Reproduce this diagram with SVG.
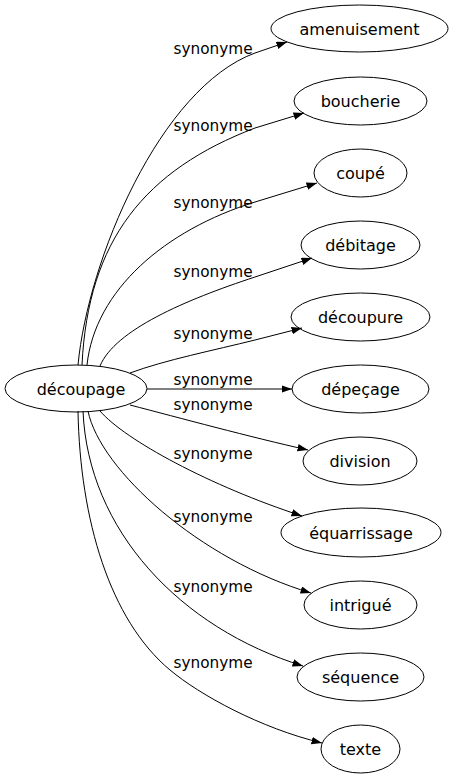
<svg xmlns="http://www.w3.org/2000/svg" width="455" height="779" viewBox="0 0 455 779">
<style>
.n ellipse{fill:none;stroke:#000;stroke-width:1}
.n text{font-family:"DejaVu Sans",sans-serif;font-size:16px;text-anchor:middle;fill:#000}
.e path{fill:none;stroke:#000;stroke-width:1;marker-end:url(#arr)}
.lbl text{font-family:"DejaVu Sans",sans-serif;font-size:15.3px;text-anchor:middle;fill:#000}
</style>
<defs>
<marker id="arr" markerUnits="userSpaceOnUse" markerWidth="11" markerHeight="8" refX="10.5" refY="3.75" orient="auto"><path d="M0,0 L10.5,3.75 L0,7.5 z" fill="#000"/></marker>
</defs>
<rect width="455" height="779" fill="#fff"/>
<g id="edges" class="e">
<path d="M78,365 C88,260 160,88 255,53 L287,42"/>
<path d="M82,365 C88,240 145,170 255,128 L304,113"/>
<path d="M87,365 C95,290 165,230 255,202 L317,183"/>
<path d="M100,366 C115,330 185,300 255,277 L312,258"/>
<path d="M130,373 C165,360 215,350 255,340 L302,328"/>
<path d="M147,389 L292,389"/>
<path d="M130,405 C180,418 250,437 308,450"/>
<path d="M100,411 C125,440 210,486 302,516"/>
<path d="M88,411 C100,470 200,560 311,593"/>
<path d="M83,411 C88,530 180,628 303,666"/>
<path d="M78,411 C80,520 110,620 170,670 C200,695 260,728 322,743"/>
</g>
<g id="edge-labels" class="lbl">
<text x="213" y="54">synonyme</text>
<text x="213" y="131">synonyme</text>
<text x="213" y="207.5">synonyme</text>
<text x="213" y="277">synonyme</text>
<text x="213" y="339">synonyme</text>
<text x="213" y="385">synonyme</text>
<text x="213" y="410">synonyme</text>
<text x="213" y="459">synonyme</text>
<text x="213" y="522">synonyme</text>
<text x="213" y="592">synonyme</text>
<text x="213" y="668">synonyme</text>
</g>
<g id="n-decoupage" class="n"><ellipse cx="76" cy="388.5" rx="71" ry="23.5"/><text x="81" y="395">découpage</text></g>
<g id="n-amenuisement" class="n"><ellipse cx="359.5" cy="28.5" rx="88.5" ry="23.5"/><text x="359.5" y="34.5">amenuisement</text></g>
<g id="n-boucherie" class="n"><ellipse cx="360.5" cy="101" rx="66.5" ry="24"/><text x="360.5" y="107">boucherie</text></g>
<g id="n-coupe" class="n"><ellipse cx="360.5" cy="173" rx="46.5" ry="24"/><text x="360.5" y="179">coupé</text></g>
<g id="n-debitage" class="n"><ellipse cx="360.5" cy="245" rx="59.5" ry="24"/><text x="360.5" y="251">débitage</text></g>
<g id="n-decoupure" class="n"><ellipse cx="360.5" cy="317" rx="69.5" ry="24"/><text x="360.5" y="323">découpure</text></g>
<g id="n-depecage" class="n"><ellipse cx="360.5" cy="389" rx="68.5" ry="24"/><text x="360.5" y="395">dépeçage</text></g>
<g id="n-division" class="n"><ellipse cx="360" cy="461" rx="57" ry="24"/><text x="360" y="467">division</text></g>
<g id="n-equarrissage" class="n"><ellipse cx="361" cy="532.5" rx="80" ry="24.5"/><text x="361" y="538.5">équarrissage</text></g>
<g id="n-intrigue" class="n"><ellipse cx="360.5" cy="605" rx="56.5" ry="24"/><text x="360.5" y="611">intrigué</text></g>
<g id="n-sequence" class="n"><ellipse cx="360.5" cy="677" rx="63.5" ry="24"/><text x="360.5" y="683">séquence</text></g>
<g id="n-texte" class="n"><ellipse cx="360.5" cy="749" rx="39.5" ry="24"/><text x="360.5" y="755">texte</text></g>
</svg>
